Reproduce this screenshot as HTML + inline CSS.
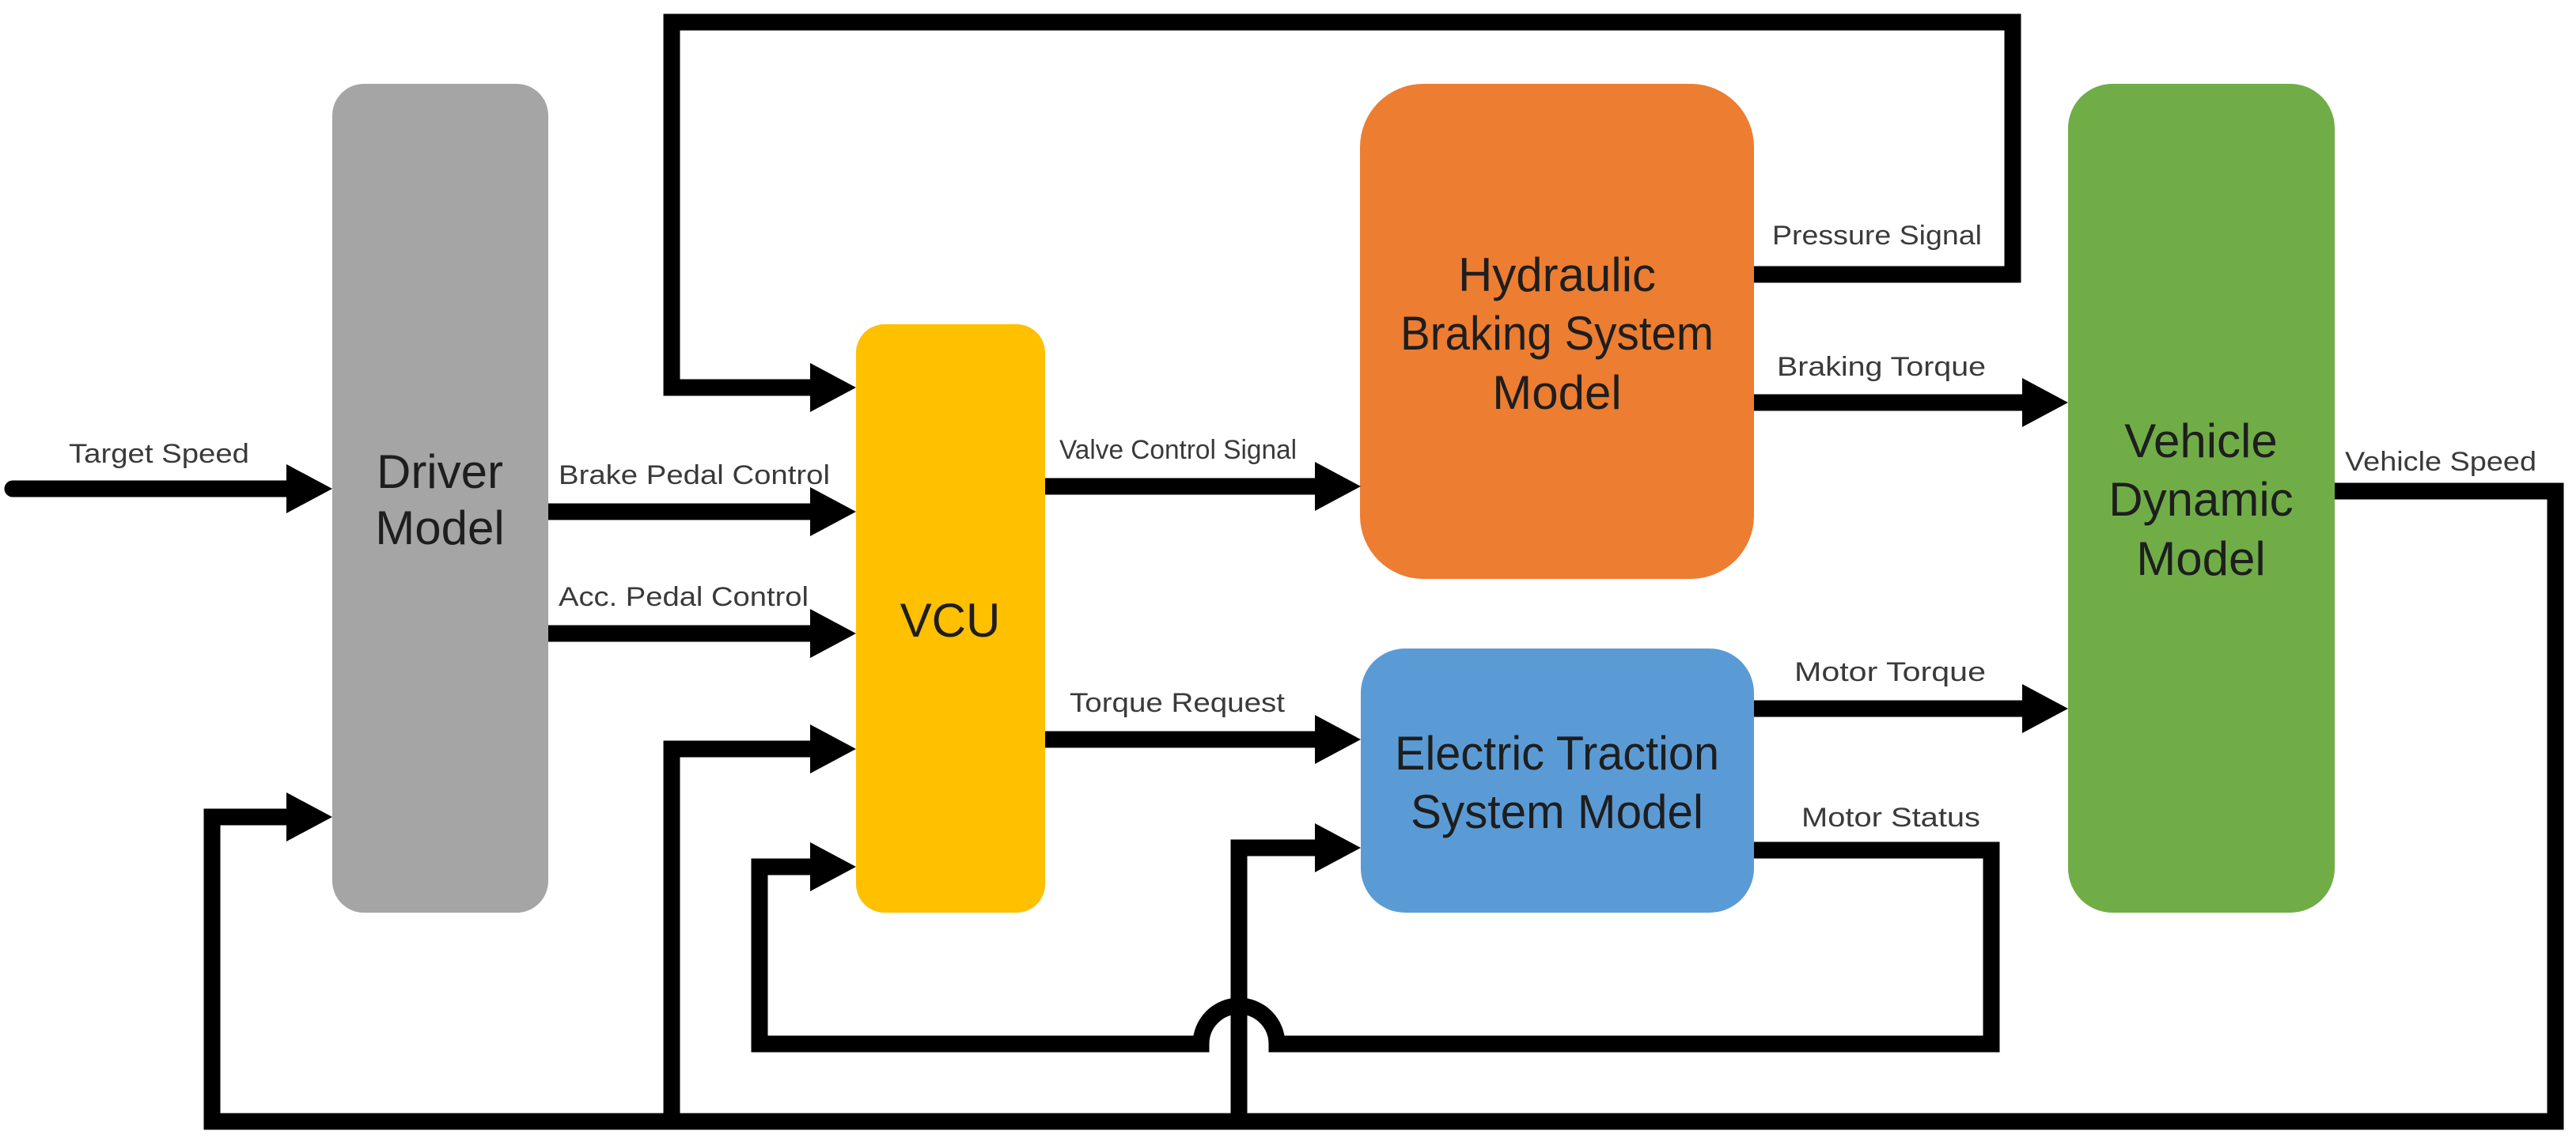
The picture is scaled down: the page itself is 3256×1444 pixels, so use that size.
<!DOCTYPE html>
<html><head><meta charset="utf-8"><style>
html,body{margin:0;padding:0;background:#fff;}
svg{display:block;}
.lb{font-family:"Liberation Sans Narrow","Liberation Sans",sans-serif;font-size:34px;fill:#3a3a3a;}
.bx{font-family:"Liberation Sans",sans-serif;font-size:60px;fill:#1e1e1e;text-anchor:middle;}
</style></head><body>
<svg width="3256" height="1444" viewBox="0 0 3256 1444" xmlns="http://www.w3.org/2000/svg">
<rect x="0" y="0" width="3256" height="1444" fill="#fff"/>
<!-- boxes -->
<rect x="420" y="106" width="273" height="1048" rx="40" fill="#a5a5a5"/>
<rect x="1082" y="410" width="239" height="744" rx="36" fill="#ffc000"/>
<rect x="1719" y="106" width="498" height="626" rx="80" fill="#ed7d31"/>
<rect x="1720" y="820" width="497" height="334" rx="56" fill="#5b9bd5"/>
<rect x="2614" y="106" width="337" height="1048" rx="56" fill="#70ad47"/>

<!-- box texts -->
<text class="bx" x="556" y="617">Driver</text>
<text class="bx" x="556" y="688">Model</text>
<text class="bx" x="1201" y="805">VCU</text>
<text class="bx" x="1968" y="368">Hydraulic</text>
<text class="bx" x="1968" y="442" textLength="396" lengthAdjust="spacingAndGlyphs">Braking System</text>
<text class="bx" x="1968" y="517">Model</text>
<text class="bx" x="1968" y="973" textLength="410" lengthAdjust="spacingAndGlyphs">Electric Traction</text>
<text class="bx" x="1968" y="1047" textLength="370" lengthAdjust="spacingAndGlyphs">System Model</text>
<text class="bx" x="2782" y="578">Vehicle</text>
<text class="bx" x="2782" y="652">Dynamic</text>
<text class="bx" x="2782" y="727">Model</text>

<!-- connector lines -->
<g fill="none" stroke="#000" stroke-width="21" stroke-linejoin="miter" stroke-linecap="butt">
  <path d="M16 618 H370" stroke-linecap="round"/>
  <path d="M693 647 H1030"/>
  <path d="M693 801 H1030"/>
  <path d="M2217 347 H2544 V28 H849 V490 H1030"/>
  <path d="M1321 615 H1668"/>
  <path d="M1321 935 H1668"/>
  <path d="M2217 509 H2562"/>
  <path d="M2217 896 H2562"/>
  <path d="M2951 621 H3230 V1418 H268 V1033 H370"/>
  <path d="M849 1418 V947 H1030"/>
  <path d="M1566 1418 V1072 H1668"/>
  <path d="M2217 1075 H2517 V1320 H1614 A48 48 0 0 0 1518 1320 H960 V1096 H1030"/>
</g>
<!-- arrowheads -->
<g fill="#000">
  <polygon points="362,587 420,618 362,649"/>
  <polygon points="1024,616 1082,647 1024,678"/>
  <polygon points="1024,770 1082,801 1024,832"/>
  <polygon points="1024,459 1082,490 1024,521"/>
  <polygon points="1024,916 1082,947 1024,978"/>
  <polygon points="1024,1065 1082,1096 1024,1127"/>
  <polygon points="362,1002 420,1033 362,1064"/>
  <polygon points="1662,584 1720,615 1662,646"/>
  <polygon points="1662,904 1720,935 1662,966"/>
  <polygon points="1662,1041 1720,1072 1662,1103"/>
  <polygon points="2556,478 2614,509 2556,540"/>
  <polygon points="2556,865 2614,896 2556,927"/>
</g>

<!-- labels -->
<text class="lb" x="87" y="585" textLength="228" lengthAdjust="spacingAndGlyphs">Target Speed</text>
<text class="lb" x="706" y="612" textLength="343" lengthAdjust="spacingAndGlyphs">Brake Pedal Control</text>
<text class="lb" x="706" y="766" textLength="316" lengthAdjust="spacingAndGlyphs">Acc. Pedal Control</text>
<text class="lb" x="1339" y="580" textLength="300" lengthAdjust="spacingAndGlyphs">Valve Control Signal</text>
<text class="lb" x="1352" y="900" textLength="272" lengthAdjust="spacingAndGlyphs">Torque Request</text>
<text class="lb" x="2240" y="309" textLength="265" lengthAdjust="spacingAndGlyphs">Pressure Signal</text>
<text class="lb" x="2246" y="475" textLength="264" lengthAdjust="spacingAndGlyphs">Braking Torque</text>
<text class="lb" x="2268" y="861" textLength="242" lengthAdjust="spacingAndGlyphs">Motor Torque</text>
<text class="lb" x="2277" y="1045" textLength="226" lengthAdjust="spacingAndGlyphs">Motor Status</text>
<text class="lb" x="2964" y="595" textLength="242" lengthAdjust="spacingAndGlyphs">Vehicle Speed</text>
</svg>
</body></html>
